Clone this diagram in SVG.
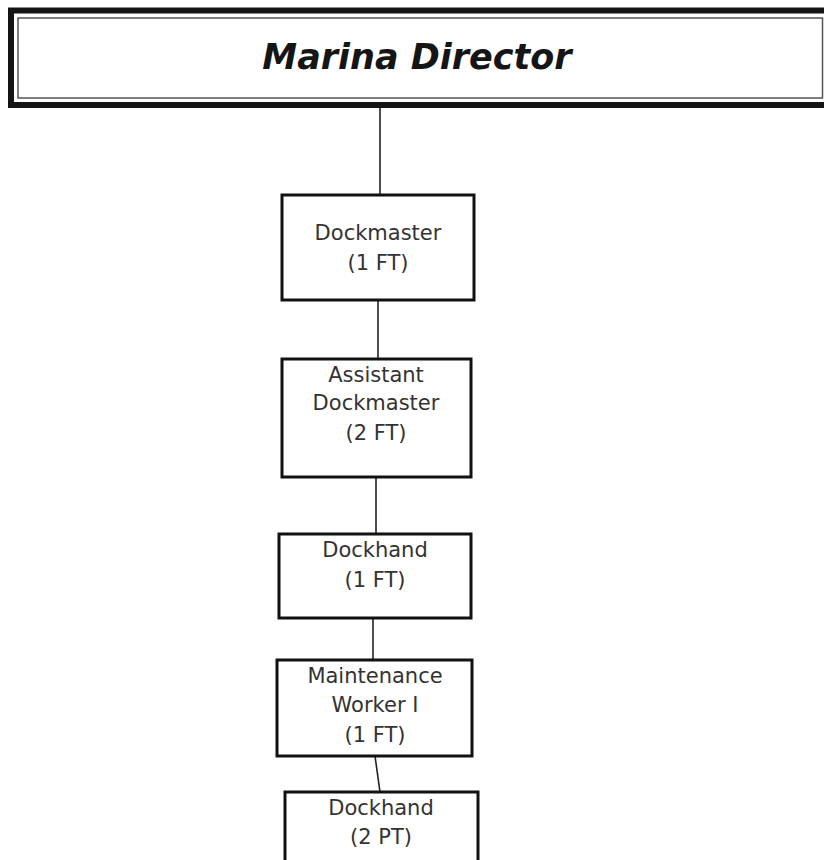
<svg xmlns="http://www.w3.org/2000/svg" width="824" height="860" viewBox="0 0 824 860">
<style>
.box{fill:#fff;stroke:#111;stroke-width:3}
.t{font-family:"DejaVu Sans",Verdana,sans-serif;font-size:21px;fill:#333;text-anchor:middle}
.c{stroke:#222;stroke-width:1.6;fill:none}
</style>
<rect width="824" height="860" fill="#fff"/>
<g id="connectors">
<line class="c" x1="380" y1="106" x2="380" y2="195"/>
<line class="c" x1="378" y1="300" x2="378" y2="359"/>
<line class="c" x1="376" y1="477" x2="376" y2="534"/>
<line class="c" x1="373" y1="618" x2="373" y2="660"/>
<line class="c" x1="375" y1="756" x2="380" y2="792"/>
</g>
<g id="marina-director">
<rect x="11" y="10.5" width="830" height="94.5" fill="#fff" stroke="#151515" stroke-width="6"/>
<rect x="18" y="18" width="804.5" height="80" fill="none" stroke="#555" stroke-width="1.5"/>
<text x="417" y="69" font-family="'DejaVu Sans',Verdana,sans-serif" font-size="35" font-weight="bold" font-style="italic" fill="#151515" text-anchor="middle">Marina Director</text>
</g>
<g id="dockmaster">
<rect class="box" x="282" y="195" width="192" height="105"/>
<text class="t" x="378" y="240">Dockmaster</text>
<text class="t" x="378" y="270">(1 FT)</text>
</g>
<g id="assistant-dockmaster">
<rect class="box" x="282" y="359" width="189" height="118"/>
<text class="t" x="376" y="382">Assistant</text>
<text class="t" x="376" y="410">Dockmaster</text>
<text class="t" x="376" y="440">(2 FT)</text>
</g>
<g id="dockhand-1ft">
<rect class="box" x="279" y="534" width="192" height="84"/>
<text class="t" x="375" y="557">Dockhand</text>
<text class="t" x="375" y="587">(1 FT)</text>
</g>
<g id="maintenance-worker">
<rect class="box" x="277" y="660" width="195" height="96"/>
<text class="t" x="375" y="683">Maintenance</text>
<text class="t" x="375" y="712">Worker I</text>
<text class="t" x="375" y="742">(1 FT)</text>
</g>
<g id="dockhand-2pt">
<rect class="box" x="285" y="792" width="193" height="90"/>
<text class="t" x="381" y="815">Dockhand</text>
<text class="t" x="381" y="844">(2 PT)</text>
</g>
</svg>
